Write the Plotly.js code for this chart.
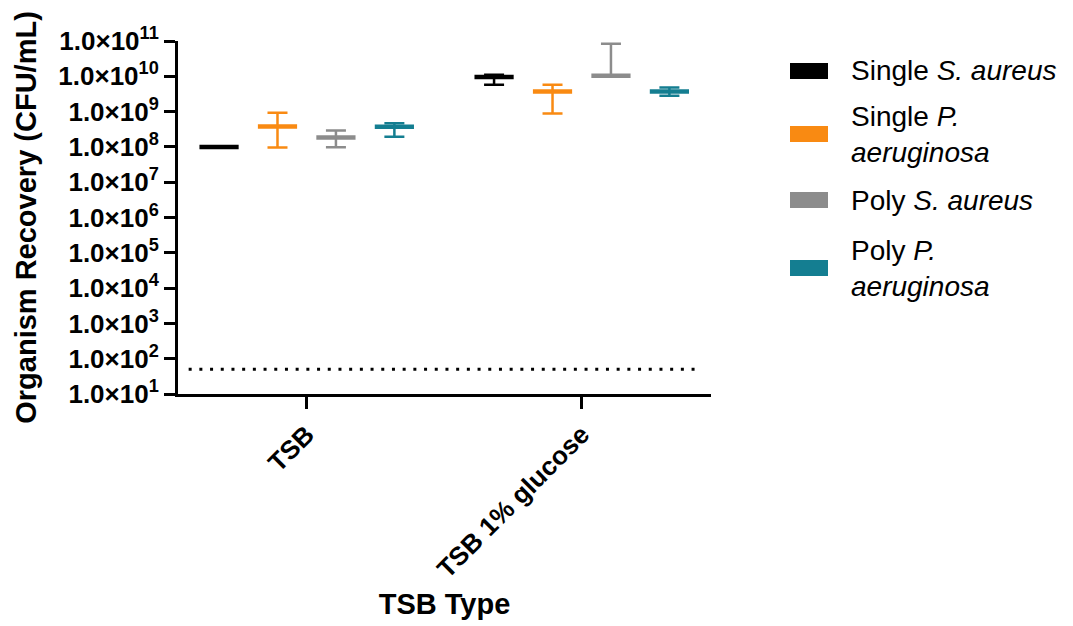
<!DOCTYPE html>
<html>
<head>
<meta charset="utf-8">
<script src="https://cdn.plot.ly/plotly-3.0.1.min.js"></script>
<style>
  html, body { margin: 0; padding: 0; background: #ffffff; }
  #chart { width: 1073px; height: 626px; }
</style>
</head>
<body>
<div id="chart"></div>
<script>
// ---- Data ----
const categories = ['TSB', 'TSB 1% glucose'];

const seriesNames = [
  'Single <i>S. aureus</i>',
  'Single <i>P.</i><br><i>aeruginosa</i>',
  'Poly <i>S. aureus</i>',
  'Poly <i>P.</i><br><i>aeruginosa</i>'
];
const seriesColors = ['#000000', '#F98A12', '#8C8C8C', '#147E91'];

// means (CFU/mL)
const singleSAMean = [1.0e8, 9.6e9];
const singlePAMean = [3.8e8, 3.7e9];
const polySAMean   = [1.86e8, 1.03e10];
const polyPAMean   = [3.7e8, 3.7e9];

// upper ends of the error bars
const singleSAUpper = [1.03e8, 1.1e10];
const singlePAUpper = [9.3e8, 5.8e9];
const polySAUpper   = [2.9e8, 8.4e10];
const polyPAUpper   = [4.7e8, 4.8e9];

// lower ends of the error bars
const singleSALower = [0.97e8, 5.8e9];
const singlePALower = [9.6e7, 8.9e8];
const polySALower   = [9.7e7, 1.03e10];
const polyPALower   = [1.95e8, 2.8e9];

const detectionLimit = 50;

const yTickValues = [1e1, 1e2, 1e3, 1e4, 1e5, 1e6, 1e7, 1e8, 1e9, 1e10, 1e11];
const yTickLabels = [
  '1.0×10<sup>1</sup>', '1.0×10<sup>2</sup>', '1.0×10<sup>3</sup>', '1.0×10<sup>4</sup>',
  '1.0×10<sup>5</sup>', '1.0×10<sup>6</sup>', '1.0×10<sup>7</sup>', '1.0×10<sup>8</sup>',
  '1.0×10<sup>9</sup>', '1.0×10<sup>10</sup>', '1.0×10<sup>11</sup>'
];

// ---- Geometry helpers (layout only) ----
const W = 1073, H = 626;
const M = { l: 178, r: 362, t: 41, b: 232 };
const plotW = W - M.l - M.r, plotH = H - M.t - M.b;
const px2x = px => (px - M.l) / plotW;
const px2y = py => 1 - (py - M.t) / plotH;

// ---- Build traces ----
const means  = [singleSAMean, singlePAMean, polySAMean, polyPAMean];
const uppers = [singleSAUpper, singlePAUpper, polySAUpper, polyPAUpper];
const lowers = [singleSALower, singlePALower, polySALower, polyPALower];

const FONT = 'Arial, "Liberation Sans", Helvetica, sans-serif';
const traces = [];

means.forEach((m, i) => {
  traces.push({
    type: 'scatter',
    mode: 'markers',
    x: categories,
    y: m,
    name: seriesNames[i],
    offsetgroup: 'g' + i,
    alignmentgroup: 'a',
    showlegend: false,
    hoverinfo: 'skip',
    marker: {
      symbol: 'line-ew',
      size: 28,
      color: seriesColors[i],
      line: { color: seriesColors[i], width: 4.5 }
    },
    error_y: {
      type: 'data',
      symmetric: false,
      array: uppers[i].map((u, k) => u - m[k]),
      arrayminus: lowers[i].map((l, k) => m[k] - l),
      color: seriesColors[i],
      thickness: 2.5,
      width: 10
    }
  });
});

// ---- Legend (swatches + labels) ----
const legendCentersPx = [71, 134, 200, 268];
const shapes = [{
  type: 'line',
  xref: 'paper', yref: 'y',
  x0: 0.02, x1: 0.979,
  y0: detectionLimit, y1: detectionLimit,
  line: { color: '#000000', width: 3, dash: '3px,7.7px' }
}];
const annotations = [];
seriesNames.forEach((name, i) => {
  const cy = legendCentersPx[i];
  shapes.push({
    type: 'rect', xref: 'paper', yref: 'paper',
    x0: px2x(790), x1: px2x(828),
    y0: px2y(cy + 8), y1: px2y(cy - 8),
    fillcolor: seriesColors[i], line: { width: 0 }
  });
  annotations.push({
    xref: 'paper', yref: 'paper',
    x: px2x(849), y: px2y(cy),
    xanchor: 'left', yanchor: 'middle', align: 'left',
    showarrow: false,
    text: name,
    font: { family: FONT, size: 28, color: '#000000' }
  });
});

const layout = {
  width: W,
  height: H,
  paper_bgcolor: '#ffffff',
  plot_bgcolor: '#ffffff',
  margin: M,
  font: { family: FONT, color: '#000000' },
  scattermode: 'group',
  scattergap: 0.15,
  showlegend: false,
  xaxis: {
    type: 'category',
    range: [-0.468, 1.470],
    showline: true,
    linecolor: '#000000',
    linewidth: 3,
    ticks: 'outside',
    ticklen: 12,
    tickwidth: 3,
    tickcolor: '#000000',
    tickangle: -45,
    tickfont: { family: FONT, size: 26, color: '#000000', weight: 'bold' },
    showgrid: false,
    zeroline: false,
    title: { text: '<b>TSB Type</b>', font: { family: FONT, size: 29, color: '#000000' }, standoff: 12 }
  },
  yaxis: {
    type: 'log',
    range: [1, 11],
    showline: true,
    linecolor: '#000000',
    linewidth: 3,
    ticks: 'outside',
    ticklen: 11,
    tickwidth: 3,
    tickcolor: '#000000',
    tickvals: yTickValues,
    ticktext: yTickLabels,
    tickfont: { family: FONT, size: 26, color: '#000000', weight: 'bold' },
    showgrid: false,
    zeroline: false,
    title: { text: '<b>Organism Recovery (CFU/mL)</b>', font: { family: FONT, size: 29, color: '#000000' }, standoff: 14 }
  },
  shapes: shapes,
  annotations: annotations
};

Plotly.newPlot('chart', traces, layout, { staticPlot: true, displayModeBar: false });
</script>
</body>
</html>
